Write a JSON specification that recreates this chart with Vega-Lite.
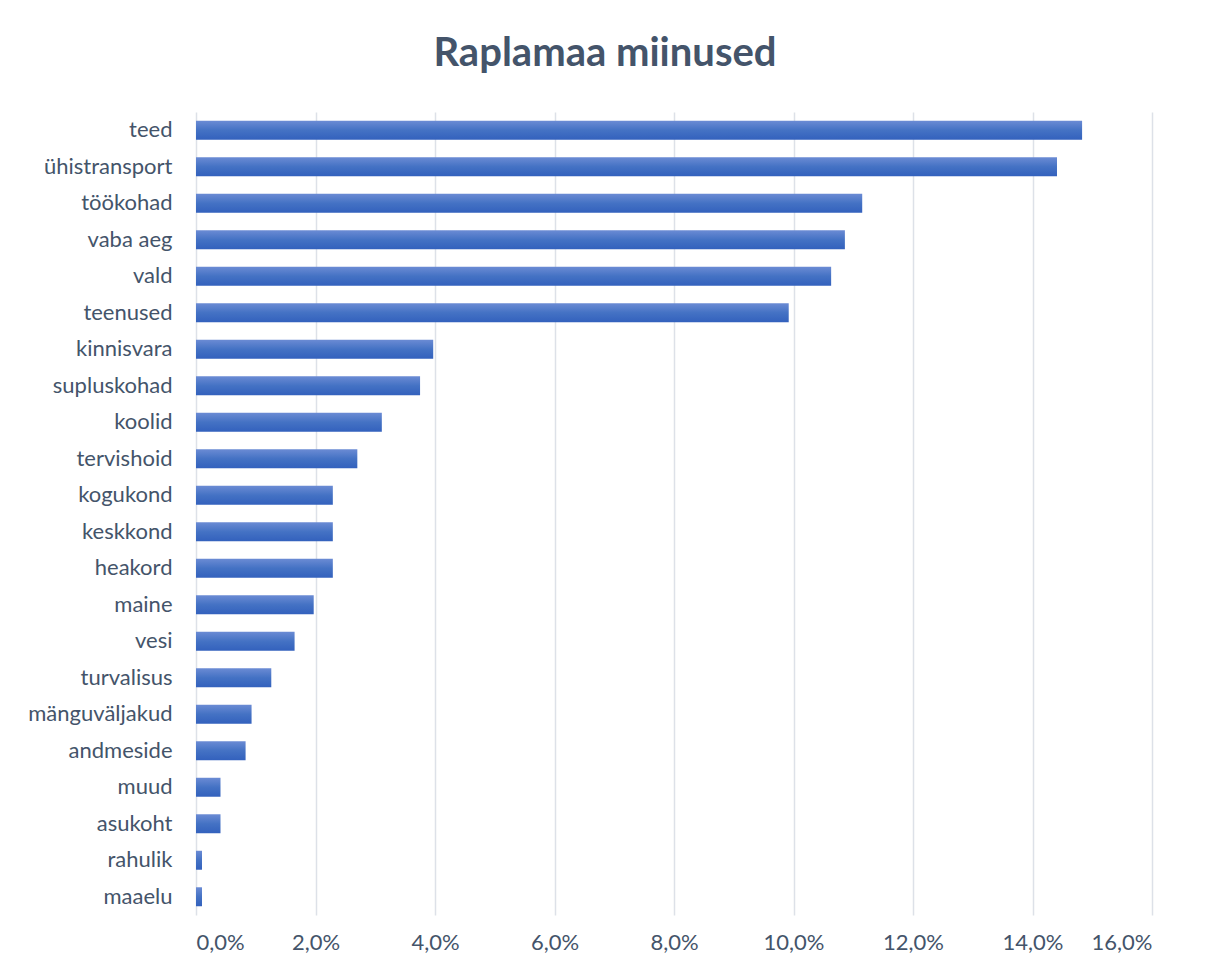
{
  "$schema": "https://vega.github.io/schema/vega-lite/v6.json",
  "width": 956,
  "height": 803,
  "autosize": {"type": "none"},
  "padding": {"left": 196, "top": 112, "right": 57, "bottom": 57},
  "background": "white",
  "title": {
    "text": "Raplamaa miinused",
    "font": "Lato",
    "fontSize": 40,
    "fontWeight": "bold",
    "color": "#44546a",
    "anchor": "middle",
    "dx": -69,
    "offset": 38
  },
  "data": {
    "values": [
      {"kategooria": "teed", "osakaal": 0.1483},
      {"kategooria": "ühistransport", "osakaal": 0.1441},
      {"kategooria": "töökohad", "osakaal": 0.1115},
      {"kategooria": "vaba aeg", "osakaal": 0.1086},
      {"kategooria": "vald", "osakaal": 0.1063},
      {"kategooria": "teenused", "osakaal": 0.0992},
      {"kategooria": "kinnisvara", "osakaal": 0.0397},
      {"kategooria": "supluskohad", "osakaal": 0.0375},
      {"kategooria": "koolid", "osakaal": 0.0311},
      {"kategooria": "tervishoid", "osakaal": 0.0270},
      {"kategooria": "kogukond", "osakaal": 0.0229},
      {"kategooria": "keskkond", "osakaal": 0.0229},
      {"kategooria": "heakord", "osakaal": 0.0229},
      {"kategooria": "maine", "osakaal": 0.0197},
      {"kategooria": "vesi", "osakaal": 0.0165},
      {"kategooria": "turvalisus", "osakaal": 0.0126},
      {"kategooria": "mänguväljakud", "osakaal": 0.0093},
      {"kategooria": "andmeside", "osakaal": 0.0083},
      {"kategooria": "muud", "osakaal": 0.0041},
      {"kategooria": "asukoht", "osakaal": 0.0041},
      {"kategooria": "rahulik", "osakaal": 0.0010},
      {"kategooria": "maaelu", "osakaal": 0.0010}
    ]
  },
  "mark": {
    "type": "bar",
    "color": {
      "gradient": "linear",
      "x1": 0, "y1": 0, "x2": 0, "y2": 1,
      "stops": [
        {"offset": 0, "color": "#6b8bd4"},
        {"offset": 0.5, "color": "#4472c4"},
        {"offset": 1, "color": "#3361bd"}
      ]
    }
  },
  "encoding": {
    "y": {
      "field": "kategooria",
      "type": "nominal",
      "sort": null,
      "scale": {"paddingInner": 0.48, "paddingOuter": 0.24},
      "axis": {
        "title": null,
        "domain": false,
        "ticks": false,
        "grid": false,
        "labelFont": "Lato",
        "labelFontSize": 22,
        "labelColor": "#44546a",
        "labelPadding": 24
      }
    },
    "x": {
      "field": "osakaal",
      "type": "quantitative",
      "scale": {"domain": [0, 0.16], "nice": false},
      "axis": {
        "title": null,
        "values": [0, 0.02, 0.04, 0.06, 0.08, 0.1, 0.12, 0.14, 0.16],
        "labelExpr": "replace(format(datum.value, '.1%'), '.', ',')",
        "domain": false,
        "ticks": false,
        "grid": true,
        "gridColor": "#dde1e8",
        "gridWidth": 1.5,
        "labelFont": "Lato",
        "labelFontSize": 22,
        "labelColor": "#44546a",
        "labelPadding": 17
      }
    }
  },
  "config": {
    "view": {"stroke": null}
  }
}
